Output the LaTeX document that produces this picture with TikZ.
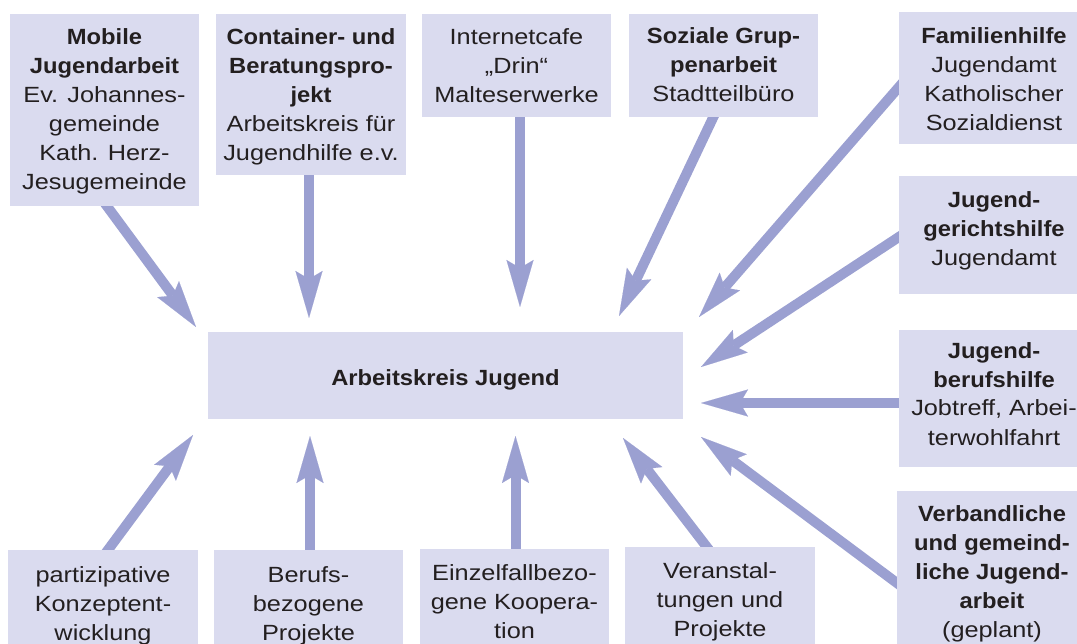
\documentclass[tikz,border=0pt]{standalone}
\usepackage{fontspec}
\newfontfamily\regf{Liberation Sans}[FakeStretch=1.15]
\newfontfamily\boldf{Liberation Sans}[FakeStretch=1.08]
\newcommand\bt[1]{{\boldf\bfseries #1}}
\newcommand\FL{\rule{0pt}{22pt}}
\usetikzlibrary{arrows.meta,calc,backgrounds}
\definecolor{boxcol}{HTML}{DADBEF}
\definecolor{arrcol}{HTML}{9BA0D1}
\definecolor{txtcol}{HTML}{231F20}
\tikzset{
  box/.style={fill=boxcol, draw=none, inner sep=0pt, outer sep=0pt, anchor=north west},
  txt/.style={text=txtcol, align=center, inner sep=0pt, outer sep=0pt, anchor=north, font=\regf\fontsize{22}{29}\selectfont},
  arr/.style={draw=arrcol, line width=10pt, -{Stealth[length=47pt,width=27pt,inset=8pt,line width=0.1pt]}},
}
\begin{document}
\begin{tikzpicture}[x=1pt,y=-1pt]
\useasboundingbox (0,0) rectangle (1077,644);
\clip (0,0) rectangle (1077,644);
% boxes
\node[box, minimum width=189pt, minimum height=192pt] (mob) at (10,14) {};
\node[box, minimum width=190pt, minimum height=161pt] (cont) at (216,14) {};
\node[box, minimum width=189pt, minimum height=103pt] (inet) at (422,14) {};
\node[box, minimum width=189pt, minimum height=103pt] (soz) at (629,14) {};
\node[box, minimum width=190pt, minimum height=132pt] (fam) at (899,12) {};
\node[box, minimum width=190pt, minimum height=118pt] (jgh) at (899,176) {};
\node[box, minimum width=190pt, minimum height=137pt] (jbh) at (899,330) {};
\node[box, minimum width=190pt, minimum height=170pt] (verb) at (897,491) {};
\node[box, minimum width=475pt, minimum height=87pt] (cen) at (208,332) {};
\node[box, minimum width=190pt, minimum height=110pt] (part) at (8,550) {};
\node[box, minimum width=189pt, minimum height=110pt] (beruf) at (214,550) {};
\node[box, minimum width=189pt, minimum height=110pt] (einz) at (420,549) {};
\node[box, minimum width=190pt, minimum height=110pt] (veran) at (625,547) {};
% texts
\node[txt] (mobT) at ($(mob.north)+(0,9)$) {\FL\bt{Mobile}\\\bt{Jugendarbeit}\\Ev. Johannes-\\gemeinde\\Kath. Herz-\\Jesugemeinde};
\node[txt] (contT) at ($(cont.north)+(0,9)$) {\FL\bt{Container- und}\\\bt{Beratungspro-}\\\bt{jekt}\\Arbeitskreis für\\Jugendhilfe e.v.};
\node[txt] (inetT) at ($(inet.north)+(0,9)$) {\FL Internetcafe\\„Drin“\\Malteserwerke};
\node[txt] (sozT) at ($(soz.north)+(0,8)$) {\FL\bt{Soziale Grup-}\\\bt{penarbeit}\\Stadtteilbüro};
\node[txt] (famT) at ($(fam.north)+(0,10)$) {\FL\bt{Familienhilfe}\\Jugendamt\\Katholischer\\Sozialdienst};
\node[txt] (jghT) at ($(jgh.north)+(0,10)$) {\FL\bt{Jugend-}\\\bt{gerichtshilfe}\\Jugendamt};
\node[txt] (jbhT) at ($(jbh.north)+(0,6)$) {\FL\bt{Jugend-}\\\bt{berufshilfe}\\Jobtreff, Arbei-\\terwohlfahrt};
\node[txt] (verbT) at ($(verb.north)+(0,8)$) {\FL\bt{Verbandliche}\\\bt{und gemeind-}\\\bt{liche Jugend-}\\\bt{arbeit}\\(geplant)};
\node[txt, anchor=base] (cenT) at ($(cen.center)+(0,9.5)$) {\bt{Arbeitskreis Jugend}};
\node[txt] (partT) at ($(part.north)+(0,10)$) {\FL partizipative\\Konzeptent-\\wicklung};
\node[txt] (berufT) at ($(beruf.north)+(0,10)$) {\FL Berufs-\\bezogene\\Projekte};
\node[txt] (einzT) at ($(einz.north)+(0,9)$) {\FL Einzelfallbezo-\\gene Koopera-\\tion};
\node[txt] (veranT) at ($(veran.north)+(0,9)$) {\FL Veranstal-\\tungen und\\Projekte};
% arrow tips
\coordinate (t1) at (196,327);
\coordinate (t2) at (309,318);
\coordinate (t3) at (520,307);
\coordinate (t4) at (619,316);
\coordinate (t5) at (699,317);
\coordinate (t6) at (701,367);
\coordinate (t7) at (701,403);
\coordinate (t8) at (701,437);
\coordinate (t9) at (623,438);
\coordinate (t10) at (515.5,436);
\coordinate (t11) at (310,436);
\coordinate (t12) at (193,435);
\begin{scope}[on background layer]
\draw[arr] ($(mob.south west)+(88,-12)$) -- (t1);
\draw[arr] ($(cont.south west)+(93,-10)$) -- (t2);
\draw[arr] ($(inet.south west)+(98,-10)$) -- (t3);
\draw[arr] ($(soz.south west)+(91,-14)$) -- (t4);
\draw[arr] ($(fam.north west)+(13,60)$) -- (t5);
\draw[arr] ($(jgh.north west)+(12.5,52.7)$) -- (t6);
\draw[arr] ($(jbh.north west)+(13,73)$) -- (t7);
\draw[arr] ($(verb.north west)+(12,101)$) -- (t8);
\draw[arr] ($(veran.north west)+(88,8)$) -- (t9);
\draw[arr] ($(einz.north west)+(95.5,10)$) -- (t10);
\draw[arr] ($(beruf.north west)+(96,10)$) -- (t11);
\draw[arr] ($(part.north west)+(94,8)$) -- (t12);
\end{scope}
\end{tikzpicture}
\end{document}
